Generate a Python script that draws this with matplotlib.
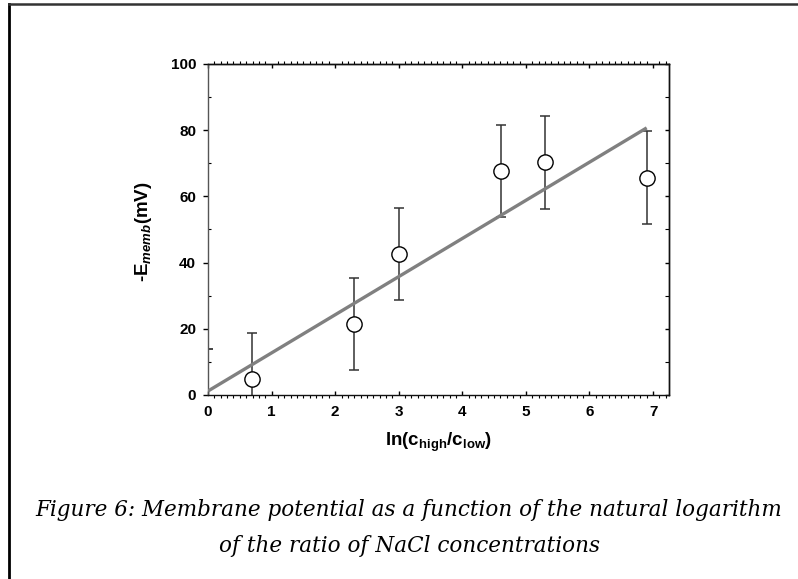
import matplotlib
matplotlib.use("Agg")
import matplotlib.pyplot as plt
from matplotlib.ticker import MultipleLocator
from matplotlib.lines import Line2D

# data
x_vals = [0.69, 2.30, 3.00, 4.61, 5.30, 6.91]
y_vals = [4.7, 21.4, 42.6, 67.8, 70.3, 65.7]
y_err = [13.9, 14.0, 14.0, 13.9, 14.0, 14.0]
x0_bar = [0.0]
y0_bar = [0.0]
y0_err = [14.0]
fit_x = [0.0, 6.9]
fit_y = [1.2, 80.7]

plt.rcParams['font.family'] = ['Liberation Sans', 'DejaVu Sans']
plt.rcParams['mathtext.fontset'] = 'custom'
plt.rcParams['mathtext.rm'] = 'Liberation Sans'
plt.rcParams['mathtext.bf'] = 'Liberation Sans:bold'
plt.rcParams['mathtext.it'] = 'Liberation Sans:italic'
plt.rcParams['mathtext.bfit'] = 'Liberation Sans:italic:bold'

fig = plt.figure(figsize=(7.98, 5.79), dpi=100)
ax = fig.add_axes([0.2607, 0.3178, 0.8383 - 0.2607, 0.8895 - 0.3178])

ax.errorbar(x0_bar, y0_bar, yerr=y0_err, fmt='none', ecolor='#222222',
            elinewidth=1.2, capsize=3.7, capthick=1.2, zorder=2)
ax.errorbar(x_vals, y_vals, yerr=y_err, fmt='none', ecolor='#333333',
            elinewidth=1.1, capsize=3.7, capthick=1.1, zorder=2)
ax.plot(fit_x, fit_y, color='#808080', lw=2.4, zorder=3, solid_capstyle='butt')
ax.plot(x_vals, y_vals, 'o', ms=11, mfc='white', mec='black', mew=1.0, zorder=4,
        clip_on=False)

ax.set_xlim(0, 7.25)
ax.set_ylim(0, 100)
ax.xaxis.set_major_locator(MultipleLocator(1))
ax.xaxis.set_minor_locator(MultipleLocator(0.1))
ax.yaxis.set_major_locator(MultipleLocator(20))
ax.yaxis.set_minor_locator(MultipleLocator(10))

ax.tick_params(axis='x', which='major', direction='in', length=3, width=1,
               labelsize=11, pad=7)
ax.tick_params(axis='x', which='minor', direction='out', length=2, width=0.8)
ax.tick_params(axis='y', which='major', direction='out', length=3.6, width=1,
               labelsize=11, pad=5)
ax.tick_params(axis='y', which='minor', direction='in', length=2.4, width=0.8)
for lab in ax.get_xticklabels() + ax.get_yticklabels():
    lab.set_fontweight('bold')

for s in ax.spines.values():
    s.set_linewidth(1.0)
    s.set_color('#111111')
ax.spines['left'].set_color('#555555')

secx = ax.secondary_xaxis('top')
secx.xaxis.set_major_locator(MultipleLocator(1))
secx.xaxis.set_minor_locator(MultipleLocator(0.1))
secx.tick_params(which='major', direction='in', length=3, width=1, labeltop=False)
secx.tick_params(which='minor', direction='out', length=2, width=0.8)
secx.spines['top'].set_linewidth(1.0)

secy = ax.secondary_yaxis('right')
secy.yaxis.set_major_locator(MultipleLocator(20))
secy.yaxis.set_minor_locator(MultipleLocator(10))
secy.tick_params(which='major', direction='in', length=3, width=1, labelright=False)
secy.tick_params(which='minor', direction='in', length=3, width=0.8)
secy.spines['right'].set_linewidth(1.0)

fig.text(143 / 798, 1 - 232 / 579, r'-E$_{\mathbfit{memb}}$(mV)',
         rotation=90, ha='center', va='center', fontsize=13.5, fontweight='bold')
fig.text(439 / 798, 1 - 442 / 579, r'ln(c$_{\mathbf{high}}$/c$_{\mathbf{low}}$)',
         ha='center', va='center', fontsize=13.5, fontweight='bold')

cap_font = ['DejaVu Serif']
fig.text(409 / 798, 1 - 510 / 579,
         'Figure 6: Membrane potential as a function of the natural logarithm',
         ha='center', va='center', fontsize=15.5, style='italic', family=cap_font)
fig.text(409 / 798, 1 - 546 / 579, 'of the ratio of NaCl concentrations',
         ha='center', va='center', fontsize=15.5, style='italic', family=cap_font)

# border (left and top)
fig.add_artist(Line2D([8.5 / 798, 8.5 / 798], [0, 1 - 4 / 579], color='black', lw=2,
                      transform=fig.transFigure))
fig.add_artist(Line2D([8.5 / 798, 1], [1 - 4 / 579, 1 - 4 / 579], color='#333333', lw=1.8,
                      transform=fig.transFigure))

fig.savefig('out.png', dpi=100)
